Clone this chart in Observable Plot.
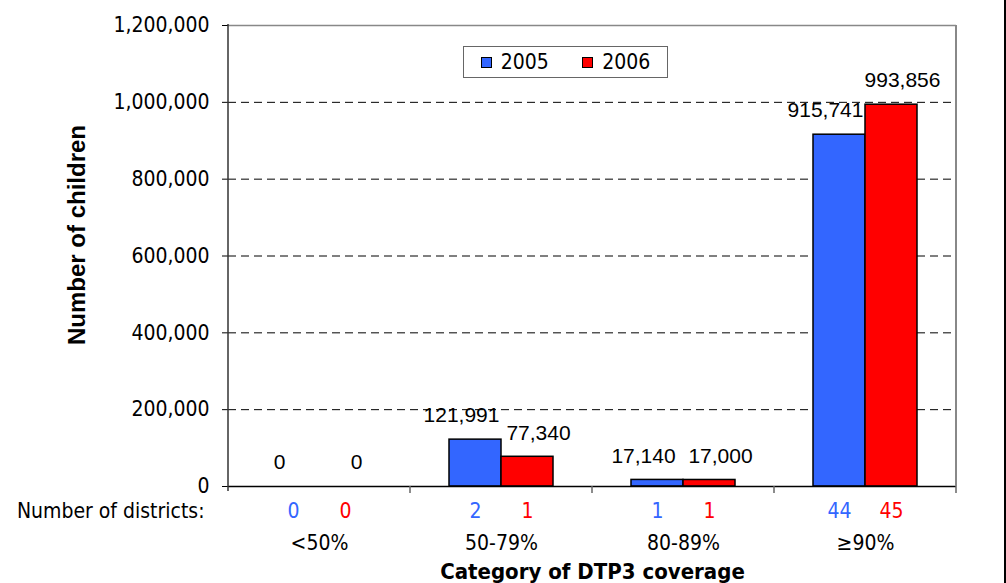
<!DOCTYPE html>
<html>
<head>
<meta charset="utf-8">
<script src="https://cdn.jsdelivr.net/npm/d3@7"></script>
<script src="https://cdn.jsdelivr.net/npm/@observablehq/plot@0.6"></script>
<style>
  html, body { margin: 0; padding: 0; background: #fff; }
  #wrap { position: relative; width: 1006px; height: 583px; overflow: hidden; background: #fff; }
  #edge { position: absolute; right: 0; top: 0; width: 2px; height: 583px; background: #000; }
  #legend {
    position: absolute; left: 463px; top: 46px; width: 203px; height: 30px;
    border: 1px solid #666; background: #fff; box-sizing: content-box;
    display: flex; align-items: center; justify-content: space-around;
    font-family: "DejaVu Sans Condensed", "DejaVu Sans", sans-serif; font-stretch: condensed;
    font-size: 21px; color: #000;
  }
  #legend .item { display: flex; align-items: center; gap: 9px; }
  #legend .sw { width: 9px; height: 9px; border: 1.5px solid #000; display: inline-block; }
  g[aria-label="fx-axis label"] text, g[aria-label="fx-axis label"] {
    font-weight: bold; font-family: "DejaVu Sans Condensed", "DejaVu Sans", sans-serif; font-size: 22px;
  }
  g[aria-label="y-axis label"] text, g[aria-label="y-axis label"] {
    font-weight: bold; font-family: "Liberation Sans", Arial, sans-serif; font-size: 24px;
  }
</style>
</head>
<body>
<div id="wrap"><div id="edge"></div></div>
<script>
// ---- data ----
const categories = ["<50%", "50-79%", "80-89%", "≥90%"];
const years = ["2005", "2006"];
const children2005 = [0, 121991, 17140, 915741];
const children2006 = [0, 77340, 17000, 993856];
const districts2005 = [0, 2, 1, 44];
const districts2006 = [0, 1, 1, 45];
const yTicks = [0, 200000, 400000, 600000, 800000, 1000000, 1200000];
const colors = ["#3366FF", "#FF0000"];
const districtsLabel = "Number of districts:";
const xTitle = "Category of DTP3 coverage";
const yTitle = "Number of children";

const rows = categories.flatMap((c, i) => [
  {category: c, year: years[0], children: children2005[i], districts: districts2005[i]},
  {category: c, year: years[1], children: children2006[i], districts: districts2006[i]}
]);

const TAHOMA = "'DejaVu Sans Condensed', 'DejaVu Sans', sans-serif";
const ARIAL = "'Liberation Sans', Arial, sans-serif";
const fmt = d3.format(",");

const plot = Plot.plot({
  width: 1006,
  height: 583,
  marginLeft: 227,
  marginRight: 49,
  marginTop: 25,
  marginBottom: 97,
  style: {fontFamily: TAHOMA, fontSize: "21px", fontStretch: "condensed", color: "#000", background: "transparent", overflow: "visible"},
  fx: {domain: categories, padding: 0, label: xTitle, tickSize: 0, tickPadding: 49, labelAnchor: "center", labelOffset: 92},
  x: {domain: years, axis: null, paddingInner: 0, paddingOuter: 0.717},
  y: {domain: [0, 1200000], ticks: yTicks, tickFormat: fmt, tickSize: 6, tickPadding: 13,
      label: yTitle, labelAnchor: "center", labelOffset: 161, labelArrow: false},
  color: {domain: years, range: colors},
  marks: [
    Plot.gridY(yTicks.filter(t => t > 0 && t < 1200000), {stroke: "#000", strokeOpacity: 1, strokeDasharray: "8,5", strokeWidth: 1}),
    Plot.ruleY([1200000], {stroke: "#888", strokeWidth: 1.5}),
    Plot.barY(rows, {fx: "category", x: "year", y: "children", fill: "year", stroke: "#000", strokeWidth: 1.5}),
    Plot.ruleY([0], {stroke: "#000", strokeWidth: 1.5}),
    Plot.text(rows, {filter: d => d.year === years[0], fx: "category", x: "year", y: "children",
      text: d => fmt(d.children), dy: -24, dx: -14, fontFamily: ARIAL, fontSize: 21, fill: "#000"}),
    Plot.text(rows, {filter: d => d.year === years[1], fx: "category", x: "year", y: "children",
      text: d => fmt(d.children), dy: -24, dx: 11, fontFamily: ARIAL, fontSize: 21, fill: "#000"}),
    Plot.text(rows, {fx: "category", x: "year", y: () => 0, text: d => String(d.districts),
      fill: "year", dy: 25, fontSize: 21}),
    Plot.text([districtsLabel], {fx: () => categories[0], frameAnchor: "bottom-left", textAnchor: "end",
      lineAnchor: "middle", dx: -24, dy: 25, fontSize: 21, fill: "#000"})
  ]
});

// Excel-style frame pieces drawn from the plot's own scales
try {
  const fxs = plot.scale("fx");
  const ys = plot.scale("y");
  const y0 = ys.apply(0), yTop = ys.apply(1200000);
  const lefts = categories.map(c => fxs.apply(c));
  const bw = fxs.bandwidth;
  const bounds = [...lefts, lefts[lefts.length - 1] + bw];
  const g = d3.select(plot).append("g");
  bounds.slice(1).forEach(x => {
    g.append("line").attr("x1", x).attr("x2", x).attr("y1", y0).attr("y2", y0 + 7)
      .attr("stroke", "#666").attr("stroke-width", 1.5);
  });
  const xr = bounds[bounds.length - 1];
  g.append("line").attr("x1", xr).attr("x2", xr).attr("y1", yTop).attr("y2", y0)
    .attr("stroke", "#888").attr("stroke-width", 2);
  g.append("line").attr("x1", bounds[0]).attr("x2", bounds[0]).attr("y1", yTop - 1).attr("y2", y0 + 5)
    .attr("stroke", "#333").attr("stroke-width", 1.5);
  // Excel places the value-axis title slightly above the plot's middle
  const yl = d3.select(plot).select('g[aria-label="y-axis label"]');
  if (!yl.empty()) {
    const prev = yl.attr("transform") || "";
    yl.attr("transform", "translate(0,-21) " + prev);
  }
} catch (e) { console.error(e); }

const wrap = document.getElementById("wrap");
wrap.insertBefore(plot, wrap.firstChild);
plot.style.position = "absolute";
plot.style.left = "0px";
plot.style.top = "0px";

const legend = document.createElement("div");
legend.id = "legend";
years.forEach((yr, i) => {
  const item = document.createElement("span");
  item.className = "item";
  const sw = document.createElement("span");
  sw.className = "sw";
  sw.style.background = colors[i];
  const t = document.createElement("span");
  t.textContent = yr;
  item.appendChild(sw);
  item.appendChild(t);
  legend.appendChild(item);
});
wrap.appendChild(legend);
</script>
</body>
</html>
